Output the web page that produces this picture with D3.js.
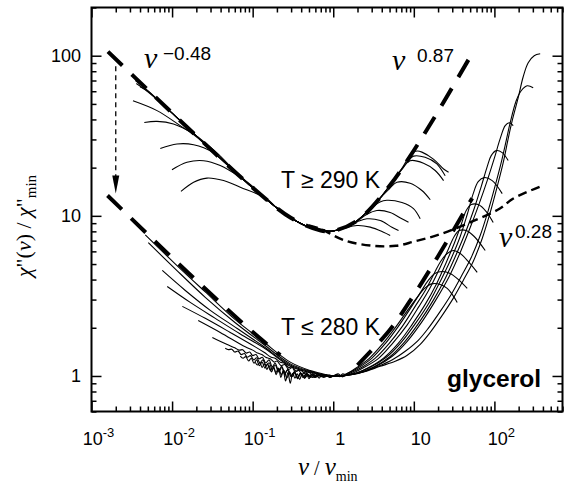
<!DOCTYPE html>
<html><head><meta charset="utf-8">
<script src="https://cdnjs.cloudflare.com/ajax/libs/d3/7.8.5/d3.min.js"></script>
<style>body{margin:0;background:#fff}svg{display:block}</style>
</head><body><svg id="c" width="576" height="484"></svg>
<script>
// ---------- data ----------
const xMajorTicks = [1e-3, 1e-2, 1e-1, 1, 10, 100];
const xTickBase = ["10", "10", "10", "1", "10", "10"];
const xTickSup  = ["-3", "-2", "-1", "", "", "2"];
const yMajorTicks = [1, 10, 100];
const yTickLabels = ["1", "10", "100"];

// fit curves (chi''/chi''min vs nu/nu_min)
const fitHigh = [[1.6e-3,106],[5e-3,61.2],[0.02,31.6],[0.1,15],[0.3,9.7],[0.7,8.1],[1,8.05],[2,9.37],[5,15.4],[10,25.6],[20,44.9],[53,103.4]];
const fitLowLeft  = [[1.58e-3,13.4],[5e-3,7.65],[0.02,3.95],[0.1,1.88],[0.22,1.35]];
const fitLowRight = [[2,1.17],[5,1.93],[10,3.2],[20,5.6],[53,12.9]];
const wingFit = [[0.5,8.7],[0.69,8.3],[1.41,7.0],[3.1,6.5],[6,6.5],[10,6.9],[20,7.6],[45,8.9],[117,11.1],[170,12.8],[405,15.5]];

// T >= 290 K spectra (shifted up)
const highT = [
 [[0.0035,70],[0.005,60.5],[0.0075,50.2],[0.01,44],[0.015,36.2],[0.02,31.6],[0.03,26],[0.05,20.5],[0.07,17.5],[0.1,15],[0.15,12.6],[0.2,11.2],[0.3,9.7],[0.5,8.48],[0.7,8.1],[1,8.05],[1.5,8.57],[2,9.37],[3,11.3],[4,13.3],[5,15.4],[7,19.5],[9.47,24.7],[11,25.4],[12.6,25.0],[17.5,22.6],[23.4,19.6],[27,18.7]],
 [[0.0036,67],[0.005,59.5],[0.0075,50],[0.01,43.8],[0.015,36.2],[0.02,31.6],[0.03,26],[0.05,20.5],[0.07,17.5],[0.1,15],[0.15,12.6],[0.2,11.2],[0.3,9.7],[0.5,8.48],[0.7,8.1],[1,8.05],[1.5,8.57],[2,9.37],[3,11.3],[4,13.3],[5,15.4],[7,19.5],[8.5,22],[9.9,23.6],[13.8,23.2],[19.3,21.1],[24.5,17.8]],
 [[0.004,64],[0.005,60],[0.0075,50],[0.01,43.8],[0.015,36.2],[0.02,31.6],[0.03,26],[0.05,20.5],[0.07,17.5],[0.1,15],[0.15,12.6],[0.2,11.2],[0.3,9.7],[0.5,8.48],[0.7,8.1],[1,8.05],[1.5,8.57],[2,9.37],[3,11.3],[4,13.3],[5,15.4],[7,19.3],[9,22.1],[13.2,21.3],[18.4,19.2],[23.4,16.6]],
 [[0.00327,52.3],[0.0065,45.4],[0.0126,36.6],[0.02,31.2],[0.03,26],[0.05,20.5],[0.07,17.5],[0.1,15],[0.15,12.6],[0.2,11.2],[0.3,9.7],[0.5,8.48],[0.7,8.1],[1,8.05],[1.5,8.57],[2,9.37],[3,11.3],[4,13.2],[5,14.8],[6.17,16.2],[9,16],[12.6,14.4],[16,12.6]],
 [[0.00452,38.3],[0.0065,38.9],[0.0104,37.5],[0.0185,32.5],[0.027,28.0],[0.04,23.5],[0.07,17.5],[0.1,15],[0.15,12.6],[0.2,11.2],[0.3,9.7],[0.5,8.48],[0.7,8.1],[1,8.05],[1.5,8.57],[2,9.37],[3,11.2],[3.8,12.2],[4.63,12.5],[7.11,12.1],[9.9,11.1],[12,9.58]],
 [[0.00714,26.3],[0.0115,28.1],[0.0185,27.8],[0.0327,24.8],[0.058,19.5],[0.1,15],[0.15,12.6],[0.2,11.2],[0.3,9.7],[0.5,8.48],[0.7,8.1],[1,8.05],[1.5,8.57],[2,9.3],[2.6,10.2],[3.48,10.8],[5.09,10.5],[7.11,9.58],[8.59,9.12]],
 [[0.00997,19.4],[0.0153,21.6],[0.0246,22.1],[0.0396,20.6],[0.0702,17.4],[0.1026,15.1],[0.15,12.6],[0.2,11.2],[0.3,9.7],[0.5,8.48],[0.7,8.1],[1,8.05],[1.5,8.6],[2,9.2],[2.62,9.58],[3.83,9.35],[5.35,8.49],[6.46,8.09]],
 [[0.0129,14.2],[0.0185,16.2],[0.0271,17.2],[0.0435,16.6],[0.0702,15.1],[0.15,12.8],[0.2,11.2],[0.3,9.7],[0.5,8.48],[0.7,8.1],[1,8.05],[1.3,8.3],[1.97,8.7],[2.88,8.5],[4.21,7.9],[5.09,7.54]]
];

// T <= 280 K spectra (highest T first)
const lowT = [
 [[0.1076,1.22],[0.115,1.17],[0.123,1.21],[0.131,1.13],[0.14,1.19],[0.15,1.10],[0.16,1.16],[0.171,1.06],[0.183,1.13],[0.196,1.02],[0.21,1.11],[0.224,0.98],[0.24,1.08],[0.256,0.93],[0.274,1.05],[0.293,0.9],[0.313,1.04],[0.335,0.97],[0.358,1.03],[0.383,0.95],[0.41,1.03],[0.44,0.97],[0.47,1.02],[0.5,0.96],[0.54,1.02],[0.58,0.98],[0.62,1.01],[0.67,0.97],[0.72,1.02],[0.78,0.99],[0.84,1.01],[0.92,0.98],[1,1.0],[1.1,1.02],[1.2,0.99],[1.3,1.03],
  [1.409,1.025],[1.9,1.117],[2.8,1.289],[4.15,1.599],[5.8,1.983],[8.2,2.532],[11.0,3.095],[13.6,3.522],[16.6,3.76],[21.27,3.731],[25.96,3.522],[29.95,3.231],[34.55,2.88]],
 [[0.0702,1.33],[0.076,1.29],[0.082,1.32],[0.089,1.24],[0.096,1.29],[0.104,1.2],[0.112,1.26],[0.121,1.16],[0.131,1.22],[0.142,1.12],[0.153,1.19],[0.166,1.08],[0.179,1.15],[0.194,1.05],[0.21,1.12],[0.227,1.02],[0.245,1.08],[0.265,0.97],[0.287,1.06],[0.31,0.99],[0.335,1.05],[0.362,0.96],[0.39,1.04],[0.42,0.98],[0.46,1.03],[0.5,0.99],[0.55,1.03],[0.6,0.98],[0.66,1.02],[0.73,0.99],[0.8,1.02],[0.9,0.99],[1,1.0],[1.15,1.01],[1.3,0.99],
  [1.45,1.025],[2.0,1.117],[3.0,1.289],[4.45,1.599],[6.3,2.012],[8.9,2.605],[11.9,3.278],[15.1,3.951],[18.2,4.368],[22.51,4.496],[28.29,4.368],[35.55,4.008],[45.98,3.522]],
 [[0.0457,1.49],[0.05,1.46],[0.055,1.47],[0.06,1.41],[0.066,1.43],[0.072,1.36],[0.079,1.38],[0.086,1.31],[0.094,1.34],[0.103,1.26],[0.112,1.3],[0.123,1.21],[0.134,1.26],[0.147,1.16],[0.16,1.21],[0.175,1.1],[0.19,1.17],[0.21,1.06],[0.23,1.13],[0.25,1.02],[0.27,1.09],[0.3,1.0],[0.33,1.06],[0.36,0.97],[0.39,1.04],[0.43,0.99],[0.47,1.03],[0.52,0.98],[0.57,1.02],[0.63,0.99],[0.7,1.02],[0.8,0.99],[0.9,1.01],[1,1.0],[1.15,1.03],[1.3,0.99],
  [1.5,1.025],[2.15,1.117],[3.3,1.289],[4.95,1.599],[7.2,2.041],[10.2,2.682],[14.1,3.471],[17.9,4.368],[21.5,5.19],[25.96,5.821],[30.83,6.077],[37.65,5.821],[47.31,5.19],[61.18,4.431]],
 [[0.0316,1.74],[0.04,1.64],[0.05,1.56],[0.06,1.5],[0.068,1.45],[0.075,1.46],[0.083,1.39],[0.092,1.41],[0.1,1.34],[0.11,1.36],[0.12,1.28],[0.132,1.31],[0.145,1.21],[0.16,1.26],[0.175,1.14],[0.19,1.2],[0.21,1.08],[0.23,1.15],[0.25,1.04],[0.275,1.1],[0.3,0.99],[0.33,1.06],[0.36,0.98],[0.4,1.04],[0.44,0.97],[0.49,1.02],[0.55,0.98],[0.62,1.02],[0.7,0.99],[0.8,1.01],[0.9,0.98],[1,1.0],[1.2,1.0],
  [1.6,1.025],[2.3,1.117],[3.65,1.289],[5.45,1.599],[8.2,2.071],[11.6,2.72],[16.0,3.573],[20.9,4.693],[26.72,6.165],[31.71,7.43],[36.59,8.098],[44.69,8.098],[56.17,7.43],[76.9,6.077]],
 [[0.0211,2.22],[0.0396,1.87],[0.0809,1.52],[0.1,1.45],[0.115,1.39],[0.13,1.36],[0.145,1.31],[0.1653,1.28],[0.185,1.22],[0.2,1.24],[0.225,1.16],[0.25,1.18],[0.28,1.1],[0.31,1.13],[0.338,1.06],[0.37,1.09],[0.41,1.02],[0.45,1.06],[0.5,1.0],[0.56,1.03],[0.62,0.99],[0.69,1.02],[0.78,0.99],[0.88,1.01],[1,1.0],[1.25,1.0],
  [1.77,1.025],[2.641,1.117],[4.173,1.289],[6.404,1.599],[9.553,2.101],[13.85,2.799],[18.96,3.731],[25.23,5.116],[31.71,6.719],[38.74,8.827],[44.69,10.79],[51.56,11.76],[62.95,11.76],[79.13,10.64],[96.63,9.083]],
 [[0.0134,2.72],[0.0258,2.29],[0.0527,1.87],[0.1076,1.52],[0.14,1.4],[0.17,1.31],[0.19,1.29],[0.22,1.22],[0.25,1.2],[0.28,1.13],[0.31,1.14],[0.35,1.07],[0.39,1.09],[0.449,1.03],[0.5,1.05],[0.58,0.99],[0.66,1.02],[0.76,0.98],[0.87,1.01],[1,1.0],[1.3,1.01],
  [1.875,1.04],[2.878,1.133],[4.546,1.308],[6.978,1.623],[10.71,2.162],[15.53,2.88],[21.27,3.895],[29.11,5.418],[37.65,7.43],[45.98,10.19],[54.58,13.77],[62.95,16.36],[74.7,17.33],[93.91,16.6],[125,13.77]],
 [[0.00871,3.62],[0.0168,2.88],[0.0344,2.29],[0.0702,1.83],[0.1433,1.48],[0.293,1.15],[0.52,1.05],[1,1.0],[1.35,1.01],
  [1.985,1.04],[3.135,1.133],[4.953,1.308],[7.602,1.623],[11.67,2.162],[17.41,2.965],[24.53,4.066],[33.58,5.738],[44.69,8.098],[56.17,11.11],[68.59,15.23],[81.42,20.29],[91.27,23.77],[105.3,25.53],[125,24.82],[148.3,22.13]],
 [[0.00756,4.56],[0.0146,3.42],[0.0298,2.57],[0.0644,1.98],[0.1315,1.55],[0.293,1.17],[0.52,1.06],[1,1.0],[1.4,1.01],
  [2.101,1.04],[3.415,1.149],[5.395,1.327],[8.282,1.646],[12.72,2.193],[18.96,3.008],[27.49,4.184],[37.65,5.905],[50.1,8.455],[64.78,11.93],[81.42,16.6],[99.43,22.77],[118,30.34],[136.1,36.56],[152.6,38.16],[171.1,36.56]],
 [[0.00507,6.8],[0.011,4.65],[0.0258,3.1],[0.0608,2.15],[0.1315,1.6],[0.293,1.19],[0.52,1.07],[0.69,1.03],[1,1.0],[1.45,1.01],
  [2.226,1.054],[3.617,1.149],[5.551,1.271],[7.823,1.426],[11.34,1.67],[15.09,1.983],[21.27,2.532],[29.11,3.231],[38.74,4.184],[51.56,5.496],[66.65,7.537],[83.78,10.79],[102.3,15.45],[121.4,21.49],[140.1,29.48],[157,38.16],[186.4,52.35],[215.1,60.41],[255.3,64.92],[302.9,63.08]],
 [[0.00465,7.6],[0.011,5.0],[0.0258,3.35],[0.0608,2.25],[0.1315,1.66],[0.293,1.22],[0.52,1.08],[0.69,1.04],[1,1.0],[1.5,1.01],
  [2.3,1.054],[3.83,1.149],[5.877,1.235],[8.282,1.346],[12.01,1.577],[15.98,1.873],[22.51,2.39],[30.83,3.051],[41.03,3.951],[54.58,5.19],[70.58,7.221],[88.7,10.49],[108.3,15.23],[128.6,21.49],[148.3,30.34],[166.3,39.27],[197.4,54.65],[227.7,73.87],[262.7,90.34],[311.7,100],[370,102.8]]
];

// arrow indicating the shift of the T >= 290 K data
const arrowNu = 0.002, arrowFrom = 86, arrowTo = 13.8;

// ---------- drawing ----------
const svg = d3.select("#c");
const L = 91.5, R = 562.5, T = 7.5, B = 411.5;
const x = d3.scaleLog().domain([1e-3, 700]).range([L, R]);
const y = d3.scaleLog().domain([0.6, 200]).range([B, T]);

const sans = "'Liberation Sans', Arial, Helvetica, sans-serif";
const serif = "'Liberation Serif', 'Times New Roman', serif";

const line = d3.line().x(d => x(d[0])).y(d => y(d[1])).curve(d3.curveCatmullRom.alpha(0.5));

svg.append("clipPath").attr("id","clip").append("rect").attr("x",L).attr("y",T).attr("width",R-L).attr("height",B-T);
const g = svg.append("g").attr("clip-path","url(#clip)");

// fit lines
g.selectAll("path.fit").data([fitHigh, fitLowLeft, fitLowRight]).join("path")
  .attr("d", line).attr("fill","none").attr("stroke","#000")
  .attr("stroke-width",4).attr("stroke-dasharray","20,13");
g.append("path").attr("d", line(wingFit)).attr("fill","none").attr("stroke","#000")
  .attr("stroke-width",2.4).attr("stroke-dasharray","9,5");

// spectra
g.selectAll("path.hi").data(highT).join("path").attr("class","hi")
  .attr("d", line).attr("fill","none").attr("stroke","#000").attr("stroke-width",1.1);
g.selectAll("path.lo").data(lowT).join("path").attr("class","lo")
  .attr("d", line).attr("fill","none").attr("stroke","#000").attr("stroke-width",1.1);

// arrow
const ax = x(arrowNu);
g.append("line").attr("x1",ax).attr("x2",ax).attr("y1",y(arrowFrom)).attr("y2",y(arrowTo)-16)
  .attr("stroke","#000").attr("stroke-width",1.3).attr("stroke-dasharray","5,4");
g.append("path").attr("d",`M${ax-3.5},${y(arrowTo)-18} L${ax+3.5},${y(arrowTo)-18} L${ax},${y(arrowTo)} Z`).attr("fill","#000");

// axes
const minorX = [];
for (let e = -3; e <= 2; e++) for (let m = 2; m <= 9; m++) { const v = m*Math.pow(10,e); if (v <= 700) minorX.push(v); }
const minorY = [0.6,0.7,0.8,0.9];
for (let e = 0; e <= 2; e++) for (let m = 2; m <= 9; m++) { const v = m*Math.pow(10,e); if (v <= 200) minorY.push(v); }

function axis(gen, scale, vals, size, tr) {
  const a = svg.append("g").attr("transform", tr)
    .call(gen(scale).tickValues(vals).tickSize(size).tickFormat(""));
  a.select(".domain").remove();
  a.selectAll("line").attr("stroke-width",1.5);
}
axis(d3.axisBottom, x, xMajorTicks, -10, `translate(0,${B})`);
axis(d3.axisBottom, x, minorX, -5, `translate(0,${B})`);
axis(d3.axisTop, x, xMajorTicks, -10, `translate(0,${T})`);
axis(d3.axisTop, x, minorX, -5, `translate(0,${T})`);
axis(d3.axisLeft, y, yMajorTicks, -10, `translate(${L},0)`);
axis(d3.axisLeft, y, minorY, -5, `translate(${L},0)`);
axis(d3.axisRight, y, yMajorTicks, -10, `translate(${R},0)`);
axis(d3.axisRight, y, minorY, -5, `translate(${R},0)`);

svg.append("rect").attr("x",L).attr("y",T).attr("width",R-L).attr("height",B-T)
  .attr("fill","none").attr("stroke","#000").attr("stroke-width",2);

// tick labels
xMajorTicks.forEach((v,i) => {
  const t = svg.append("text").attr("x", x(v)+7).attr("y", 445).attr("text-anchor","middle")
    .attr("font-family", sans).attr("font-size", 18);
  t.append("tspan").text(xTickBase[i]);
  if (xTickSup[i]) t.append("tspan").attr("dy",-8).attr("font-size",13).text(xTickSup[i]);
});
yMajorTicks.forEach((v,i) => {
  svg.append("text").attr("x", 81).attr("y", y(v)+6.5).attr("text-anchor","end")
    .attr("font-family", sans).attr("font-size", 18).text(yTickLabels[i]);
});

// axis titles
const xt = svg.append("text").attr("x", 298).attr("y", 475).attr("font-family", serif).attr("font-size", 25);
xt.append("tspan").attr("font-style","italic").text("ν");
xt.append("tspan").attr("font-size",20).text(" / ");
xt.append("tspan").attr("font-style","italic").text("ν");
xt.append("tspan").attr("font-size",14).attr("dy",6).text("min");

const yt = svg.append("text").attr("transform","translate(31,226) rotate(-90)").attr("text-anchor","middle")
  .attr("font-family", serif).attr("font-size", 22);
yt.append("tspan").attr("font-style","italic").text("χ");
yt.append("tspan").text("\"(");
yt.append("tspan").attr("font-style","italic").text("ν");
yt.append("tspan").text(") / ");
yt.append("tspan").attr("font-style","italic").text("χ");
yt.append("tspan").text("\"");
yt.append("tspan").attr("font-size",15).attr("dy",5).text("min");

// annotations
function power(xp, yb, exp, supx, supy) {
  svg.append("text").attr("x", xp).attr("y", yb).attr("font-family", serif).attr("font-style","italic")
    .attr("font-size", 30).text("ν");
  svg.append("text").attr("x", supx).attr("y", supy).attr("font-family", sans).attr("font-size", 19).text(exp);
}
power(144, 68, "\u22120.48", 163, 60);
power(392, 70, "0.87", 417, 62);
power(499, 247, "0.28", 515, 238);

svg.append("text").attr("x", 281).attr("y", 188).attr("font-family", sans).attr("font-size", 23).text("T \u2265 290 K");
svg.append("text").attr("x", 281).attr("y", 335).attr("font-family", sans).attr("font-size", 23).text("T \u2264 280 K");
svg.append("text").attr("x", 447).attr("y", 387).attr("font-family", sans).attr("font-weight","bold").attr("font-size", 24.5).text("glycerol");
</script></body></html>
